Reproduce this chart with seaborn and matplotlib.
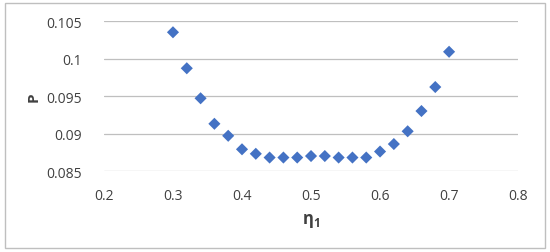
import matplotlib
matplotlib.use("Agg")
import matplotlib.pyplot as plt
import seaborn as sns
import pandas as pd
from matplotlib.patches import Rectangle

# data
eta1 = [0.30, 0.32, 0.34, 0.36, 0.38, 0.40, 0.42, 0.44, 0.46, 0.48, 0.50,
        0.52, 0.54, 0.56, 0.58, 0.60, 0.62, 0.64, 0.66, 0.68, 0.70]
p_vals = [0.1035, 0.0987, 0.0947, 0.0913, 0.0897, 0.0879, 0.0873, 0.0868,
          0.0868, 0.0868, 0.0870, 0.0870, 0.0868, 0.0868, 0.0868, 0.0876,
          0.0886, 0.0903, 0.0930, 0.0962, 0.1009]
x_ticks = [0.2, 0.3, 0.4, 0.5, 0.6, 0.7, 0.8]
y_ticks = [0.085, 0.09, 0.095, 0.1, 0.105]
y_labels = ["0.085", "0.09", "0.095", "0.1", "0.105"]

df = pd.DataFrame({"eta1": eta1, "P": p_vals})

sns.set_style("white")
plt.rcParams["font.family"] = ["Open Sans", "DejaVu Sans"]
plt.rcParams["mathtext.fontset"] = "custom"
plt.rcParams["mathtext.bf"] = "Open Sans:bold"

fig = plt.figure(figsize=(5.5, 2.53), dpi=100)
ax = fig.add_axes([0.189, 0.320, 0.753, 0.593])

# outer chart border
fig.patches.append(Rectangle((0.009, 0.016), 0.982, 0.97, transform=fig.transFigure,
                             fill=False, edgecolor="#bfbfbf", linewidth=1))

sns.scatterplot(data=df, x="eta1", y="P", marker="D", s=38, color="#4472C4",
                edgecolor="none", ax=ax, zorder=3)

ax.set_xlim(0.2, 0.8)
ax.set_ylim(0.085, 0.105)
ax.set_xticks(x_ticks)
ax.set_xticklabels([f"{v:g}" for v in x_ticks])
ax.set_yticks(y_ticks)
ax.set_yticklabels(y_labels)
ax.tick_params(axis="both", length=0, labelsize=10, colors="#404040")
ax.tick_params(axis="x", pad=12)
ax.tick_params(axis="y", pad=16)
ax.yaxis.grid(True, color="#bfbfbf", linewidth=0.9)
ax.xaxis.grid(False)
for s in ax.spines.values():
    s.set_visible(False)

ax.set_xlabel(r"η$_\mathbf{1}$", fontsize=12, fontweight="bold", color="#404040", labelpad=6)
ax.set_ylabel("P", fontsize=11, fontweight="bold", color="#404040", labelpad=4)

fig.savefig("out.png", dpi=100)
